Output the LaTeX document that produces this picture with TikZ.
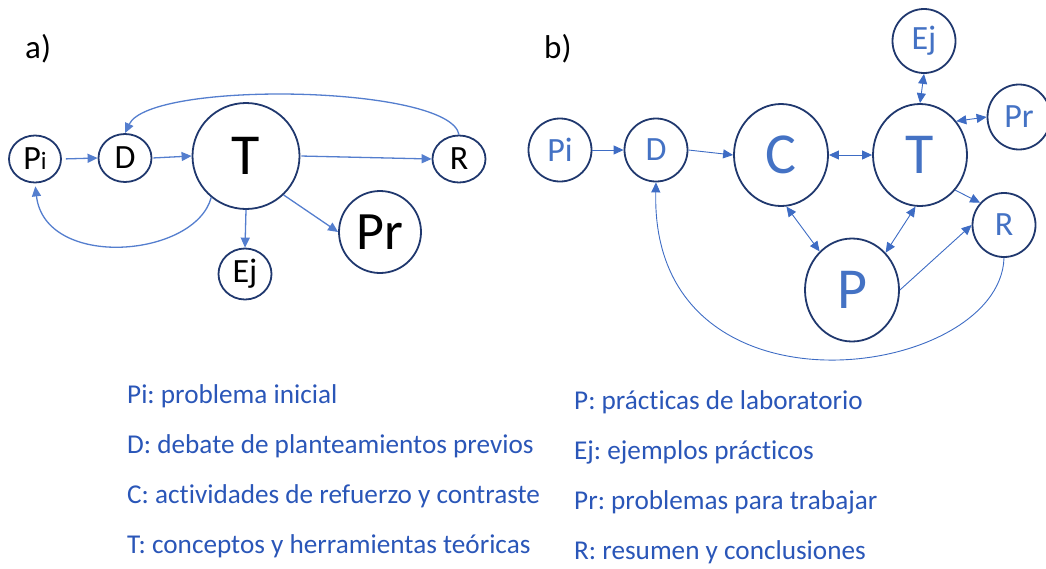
\documentclass[tikz,border=0pt]{standalone}
\usepackage{fontspec}
\setmainfont{Carlito}[Ligatures=NoCommon]
\frenchspacing
\usetikzlibrary{arrows.meta,shapes.geometric}
\definecolor{navy}{RGB}{32,56,110}
\definecolor{arrA}{RGB}{84,126,206}
\definecolor{arrB}{RGB}{62,108,196}
\definecolor{txtB}{RGB}{68,114,196}
\definecolor{legB}{RGB}{42,86,184}
\begin{document}
\begin{tikzpicture}[x=1pt,y=-1pt,
  nd/.style={ellipse,draw=navy,line width=1.8pt,inner sep=0pt},
  small/.style={font=\fontsize{34}{36}\selectfont},
  big/.style={font=\fontsize{58}{60}\selectfont},
  na/.style={nd,text=black},
  nb/.style={nd,text=txtB},
  ea/.style={draw=arrA,line width=1.3pt,-{Triangle[length=10pt,width=9pt]}},
  eb/.style={draw=arrB,line width=0.9pt,-{Triangle[length=10pt,width=9pt]}},
  ebb/.style={draw=arrB,line width=0.9pt,{Triangle[length=10pt,width=9pt]}-{Triangle[length=10pt,width=9pt]}},
  leg/.style={anchor=base west,text=legB,font=\fontsize{27.2}{30}\selectfont,inner sep=0pt}
]
\useasboundingbox (0,0) rectangle (1046,568);

% ---------- panel a ----------
\node[anchor=base west,inner sep=0pt,font=\fontsize{33}{35}\selectfont] (la) at (25,58) {a)};
\node[na,small,minimum width=52pt,minimum height=47pt] (aPi) at (35,159) {P{\fontsize{25}{25}\selectfont i}};
\node[na,small,minimum width=53pt,minimum height=48pt] (aD) at (125,158) {D};
\node[na,big,minimum width=107pt,minimum height=106pt] (aT) at (246,156) {T};
\node[na,small,minimum width=53pt,minimum height=47pt] (aR) at (459,159) {R};
\node[na,font=\fontsize{54}{56}\selectfont,minimum width=82pt,minimum height=82pt] (aPr) at (380,232) {Pr};
\node[na,small,minimum width=53pt,minimum height=51pt] (aEj) at (245,274) {Ej};

\draw[ea,shorten <=4pt] (aPi.east) -- (aD.west);
\draw[ea,shorten <=1pt] (aD.east) -- (aT.west);
\draw[ea,shorten <=1pt] (aT.east) -- (aR.west);
\draw[ea] (aT.south) -- (aEj.north);
\draw[ea] (aT.-46) -- (aPr.west);
\draw[ea] (aR.north) .. controls (450,85) and (150,80) .. (aD.north);
\draw[ea,shorten >=3pt] (aT.-130) .. controls (195,258) and (45,270) .. (aPi.south);

% ---------- panel b ----------
\node[anchor=base west,inner sep=0pt,font=\fontsize{33}{35}\selectfont] (lb) at (544,58) {b)};
\node[nb,small,minimum size=63pt] (bPi) at (560,150) {Pi};
\node[nb,small,minimum size=63pt] (bD) at (656,150) {D};
\node[nb,big,minimum width=94pt,minimum height=102pt] (bC) at (781,155) {C};
\node[nb,big,minimum width=94pt,minimum height=102pt] (bT) at (920,155) {T};
\node[nb,big,minimum width=94pt,minimum height=103pt] (bP) at (852,290) {P};
\node[nb,small,minimum width=63pt,minimum height=64pt] (bR) at (1004,225) {R};
\node[nb,small,minimum width=63pt,minimum height=64pt] (bEj) at (924,41) {Ej};
\node[nb,small,minimum width=63pt,minimum height=65pt] (bPr) at (1019,117) {Pr};

\draw[eb] (bPi.east) -- (bD.west);
\draw[eb] (bD.east) -- (bC.west);
\draw[ebb] (bC.east) -- (bT.west);
\draw[ebb] (bEj.south) -- (bT.north);
\draw[ebb] (bT.43) -- (bPr.west);
\draw[eb] (bT.-45) -- (bR.137);
\draw[ebb] (bC.-84) -- (bP.130);
\draw[ebb] (bT.-95) -- (bP.48);
\draw[eb] (bP.east) -- (bR.west);
\draw[eb] (bR.south) .. controls (1000,380) and (650,430) .. (bD.south);

% ---------- legend ----------
\node[leg] (l1) at (127,403) {Pi: problema inicial};
\node[leg] (l2) at (127,453) {D: debate de planteamientos previos};
\node[leg] (l3) at (127,503) {C: actividades de refuerzo y contraste};
\node[leg] (l4) at (127,553) {T: conceptos y herramientas teóricas};
\node[leg] (r1) at (574,409) {P: prácticas de laboratorio};
\node[leg] (r2) at (574,459) {Ej: ejemplos prácticos};
\node[leg] (r3) at (574,509) {Pr: problemas para trabajar};
\node[leg] (r4) at (574,559) {R: resumen y conclusiones};
\end{tikzpicture}
\end{document}
